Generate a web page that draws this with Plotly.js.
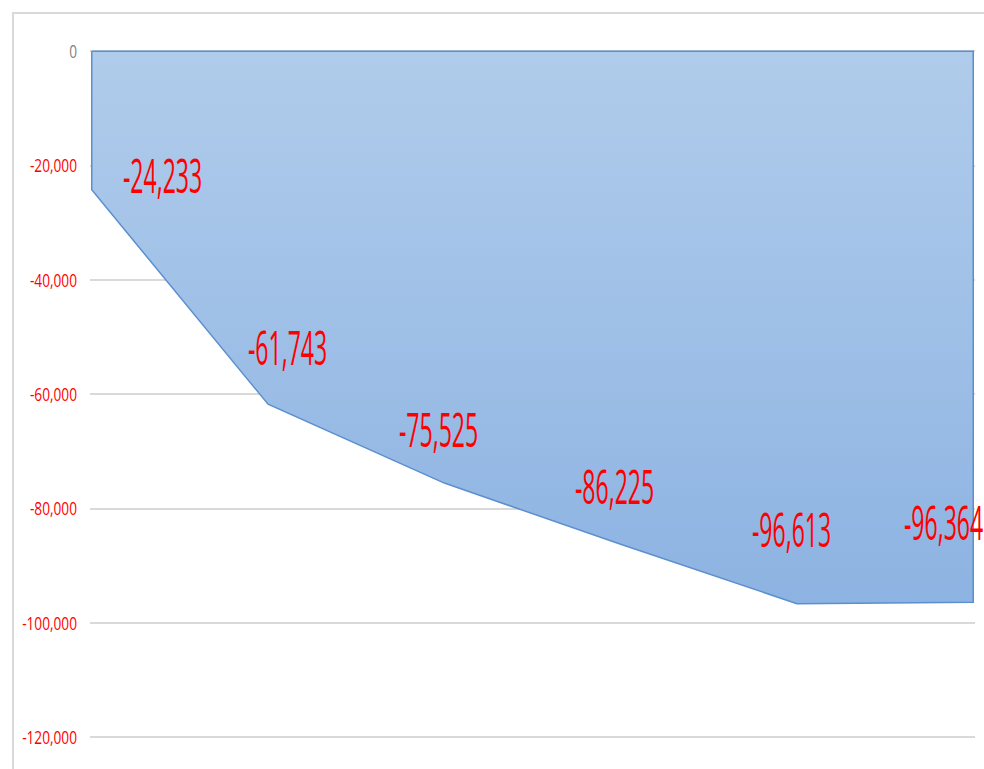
<!DOCTYPE html>
<html>
<head>
<meta charset="utf-8">
<script src="https://cdn.plot.ly/plotly-3.0.1.min.js"></script>
<style>
  html, body { margin: 0; padding: 0; background: #ffffff; overflow: hidden; }
  #wrap { position: relative; width: 984px; height: 769px; }
  #chart { position: absolute; left: 0; top: 0; width: 984px; height: 769px; }
  #frame { position: absolute; left: 12px; top: 12px; width: 1000px; height: 800px;
           border-left: 2px solid #d9d9d9; border-top: 2px solid #d9d9d9; pointer-events: none; }
</style>
</head>
<body>
<div id="wrap">
  <div id="chart"></div>
  <div id="frame"></div>
</div>
<script>
// ---- data ----
const categories = ['1', '2', '3', '4', '5', '6'];
const values = [-24233, -61743, -75525, -86225, -96613, -96364];
const tickValues = [0, -20000, -40000, -60000, -80000, -100000, -120000];
const tickLabels = ['0', '-20,000', '-40,000', '-60,000', '-80,000', '-100,000', '-120,000'];

// ---- label placement (pixels, style only) ----
const labelShiftX = [71, 19, -6, -6, -5, -30];
const labelShiftY = [15, 58, 55, 59, 75, 81];

const labelFont = '"Open Sans", "DejaVu Sans", sans-serif';

const xIdx = categories.map((c, i) => i);
// closed polygon: from 0 down through the values and back to 0
const polyX = [xIdx[0]].concat(xIdx, [xIdx[xIdx.length - 1], xIdx[0]]);
const polyY = [0].concat(values, [0, 0]);

const fmt = v => (v < 0 ? '-' : '') + Math.abs(v).toLocaleString('en-US');

const trace = {
  type: 'scatter',
  mode: 'lines',
  x: polyX,
  y: polyY,
  fill: 'toself',
  fillgradient: {
    type: 'vertical',
    colorscale: [[0, 'rgb(141,179,226)'], [1, 'rgb(176,204,235)']]
  },
  line: { color: '#5b8fcf', width: 1.5 },
  hoverinfo: 'skip',
  showlegend: false
};

const annotations = values.map((v, i) => ({
  x: xIdx[i],
  y: v,
  xref: 'x',
  yref: 'y',
  text: fmt(v),
  showarrow: false,
  xanchor: 'center',
  yanchor: 'middle',
  xshift: labelShiftX[i],
  yshift: labelShiftY[i],
  font: { family: labelFont, size: 48, weight: 500, color: '#ff0000' }
}));

const ticktext = tickLabels.map((t, i) => tickValues[i] === 0 ? '<span style="color:#7f7f7f">' + t + '</span>' : t);

const layout = {
  width: 984,
  height: 769,
  margin: { l: 90, r: 9, t: 34, b: 3, pad: 0 },
  paper_bgcolor: '#ffffff',
  plot_bgcolor: '#ffffff',
  showlegend: false,
  xaxis: {
    type: 'linear',
    range: [-0.01, 5.01],
    showgrid: false,
    zeroline: false,
    showline: false,
    showticklabels: false,
    ticks: ''
  },
  yaxis: {
    range: [-125000, 3000],
    tickmode: 'array',
    tickvals: tickValues,
    ticktext: ticktext,
    showgrid: true,
    gridcolor: '#d9d9d9',
    gridwidth: 2,
    zeroline: false,
    showline: false,
    ticks: '',
    ticklabelstandoff: 12,
    tickfont: { family: labelFont, size: 19, color: '#ff0000' }
  },
  annotations: annotations
};

// narrow the (Calibri-like, condensed) text horizontally, keeping it real text
function squeeze(el, sx, anchor) {
  const b = el.getBBox();
  const cx = anchor === 'end' ? b.x + b.width : b.x + b.width / 2;
  const cy = b.y + b.height / 2;
  const prev = el.getAttribute('transform') || '';
  el.setAttribute('transform', prev + ' translate(' + cx + ',' + cy + ') scale(' + sx + ',1) translate(' + (-cx) + ',' + (-cy) + ')');
}

Plotly.newPlot('chart', [trace], layout, { staticPlot: true, displayModeBar: false }).then(gd => {
  gd.querySelectorAll('.annotation-text').forEach(el => squeeze(el, 0.48, 'middle'));
  gd.querySelectorAll('.ytick text').forEach(el => squeeze(el, 0.72, 'end'));
});
</script>
</body>
</html>
